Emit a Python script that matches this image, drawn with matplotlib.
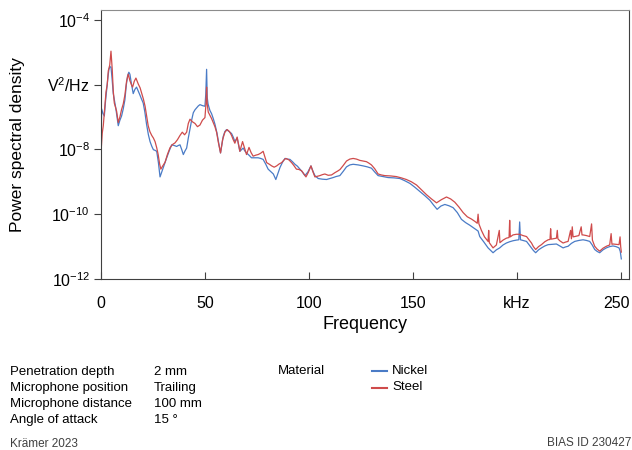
"""
Power spectral density of nickel vs. steel, log scale.
"""

import matplotlib.pyplot as plt
import matplotlib.transforms as mtransforms
import numpy as np
from matplotlib.lines import Line2D

plt.rcParams["font.family"] = ["Liberation Sans", "DejaVu Sans"]
plt.rcParams["mathtext.fontset"] = "custom"
plt.rcParams["mathtext.rm"] = "Liberation Sans"

# frequency in kHz, PSD stored as log10(V^2/Hz)
nickel_f = [
    0.0, 0.3, 1.0, 1.6, 2.2, 2.7, 3.3, 3.8, 4.3, 4.8, 5.3, 5.9, 6.5, 7.1, 7.7, 8.3,
    9.1, 9.9, 10.7, 11.5, 12.2, 12.8, 13.4, 13.9, 14.7, 15.5, 16.3, 17.1, 17.9, 18.7,
    19.5, 20.3, 21.1, 21.9, 22.8, 23.6, 24.4, 25.2, 26.0, 26.8, 27.6, 28.4, 29.2, 30.0,
    30.8, 31.6, 32.8, 34.0, 35.2, 36.4, 37.2, 38.0, 38.8, 39.6, 40.4, 41.2, 42.0, 42.8,
    43.6, 44.4, 45.2, 46.0, 46.8, 47.6, 48.8, 50.0, 50.4, 50.8, 51.1, 51.5, 52.4, 53.2,
    54.0, 54.8, 55.8, 56.6, 57.5, 58.8, 59.6, 60.4, 61.6, 62.8, 63.6, 64.4, 65.5, 66.8,
    68.4, 69.2, 70.0, 71.2, 72.4, 74.0, 75.6, 76.8, 78.0, 79.2, 80.4, 81.6, 82.9, 84.1,
    85.1, 86.1, 87.3, 88.5, 89.7, 90.9, 92.1, 93.3, 94.5, 95.7, 96.9, 98.1, 99.5, 101.0,
    102.0, 102.9, 104.5, 106.5, 108.5, 110.1, 111.7, 113.0, 114.9, 116.5, 118.1, 119.7,
    121.3, 123.7, 126.1, 128.1, 130.1, 131.7, 133.3, 135.7, 138.1, 141.0, 143.8, 146.2,
    148.6, 151.0, 153.4, 155.8, 158.2, 160.0, 161.7, 163.5, 165.4, 167.4, 169.4, 171.4,
    173.4, 175.4, 177.4, 179.4, 181.4, 182.2, 184.2, 186.2, 188.6, 190.2, 191.8, 193.4,
    195.0, 196.6, 198.2, 199.8, 201.0, 201.4, 201.8, 203.0, 204.7, 206.0, 207.1, 208.0,
    209.1, 210.5, 211.9, 213.5, 215.1, 217.1, 219.1, 220.7, 222.3, 223.5, 224.7, 226.3,
    227.9, 229.9, 231.9, 233.5, 235.1, 236.3, 237.5, 238.7, 239.9, 241.5, 243.1, 244.7,
    246.3, 247.7, 249.2, 249.8, 250.3,
]
nickel_psd = [
    -8.2, -6.75, -6.9, -6.97, -6.5, -6.18, -5.8, -5.53, -5.45, -5.46, -5.8, -6.28, -6.5, -6.72, -7.0, -7.27,
    -7.1, -6.97, -6.75, -6.47, -6.0, -5.73, -5.62, -5.68, -6.0, -6.28, -6.15, -6.08, -6.2, -6.32,
    -6.45, -6.57, -6.85, -7.22, -7.55, -7.76, -7.9, -8.01, -8.03, -8.06, -8.4, -8.85, -8.7, -8.56,
    -8.4, -8.26, -8.05, -7.86, -7.88, -7.91, -7.88, -7.86, -8.0, -8.16, -8.05, -7.96, -7.65, -7.37,
    -7.1, -6.87, -6.78, -6.72, -6.66, -6.62, -6.65, -6.67, -6.3, -5.53, -6.4, -6.6, -6.8, -6.9,
    -7.05, -7.22, -7.5, -7.8, -8.11, -7.6, -7.45, -7.39, -7.45, -7.51, -7.62, -7.76, -7.65, -8.06,
    -7.96, -8.05, -8.11, -8.18, -8.26, -8.26, -8.26, -8.28, -8.31, -8.45, -8.61, -8.68, -8.76, -8.93,
    -8.75, -8.56, -8.4, -8.28, -8.3, -8.31, -8.38, -8.46, -8.52, -8.61, -8.7, -8.81, -8.7, -8.51,
    -8.68, -8.81, -8.9, -8.92, -8.93, -8.9, -8.87, -8.84, -8.81, -8.68, -8.54, -8.48,
    -8.46, -8.48, -8.51, -8.54, -8.58, -8.7, -8.81, -8.84, -8.87, -8.88, -8.9, -8.97,
    -9.05, -9.17, -9.3, -9.43, -9.57, -9.72, -9.85, -9.75, -9.7, -9.74, -9.8, -9.95,
    -10.16, -10.26, -10.34, -10.43, -10.52, -10.69, -10.86, -11.04, -11.19, -11.1, -11.04, -10.95,
    -10.89, -10.85, -10.82, -10.8, -10.79, -10.24, -10.79, -10.81, -10.84, -10.95, -11.04, -11.12,
    -11.19, -11.1, -11.04, -10.98, -10.94, -10.93, -10.92, -10.98, -11.04, -11.01, -10.99, -10.9,
    -10.84, -10.81, -10.79, -10.81, -10.84, -10.95, -11.09, -11.15, -11.19, -11.1, -11.04, -11.0,
    -10.98, -11.0, -11.04, -11.15, -11.38,
]

steel_f = [
    0.0, 0.6, 1.1, 1.8, 2.4, 3.0, 3.5, 4.2, 4.8, 5.4, 5.9, 6.4, 7.5, 8.3, 9.1, 9.9,
    10.7, 11.5, 12.3, 13.1, 13.9, 14.6, 15.2, 16.0, 16.8, 17.4, 17.9, 18.8, 19.6, 20.4,
    21.2, 22.0, 22.7, 23.5, 24.4, 25.2, 26.0, 26.8, 27.5, 28.2, 28.8, 29.8, 30.8, 32.0,
    33.2, 34.4, 35.6, 36.8, 38.0, 39.1, 40.2, 41.2, 42.0, 42.8, 44.0, 45.2, 46.4, 47.6,
    48.8, 50.0, 50.5, 50.8, 51.1, 51.6, 53.2, 54.8, 55.6, 56.5, 57.5, 58.5, 59.6, 60.7,
    61.8, 62.8, 63.6, 64.4, 65.5, 66.8, 68.1, 69.0, 70.0, 71.2, 72.2, 73.2, 74.4, 75.6,
    76.8, 78.0, 78.9, 79.7, 81.0, 82.1, 83.3, 84.5, 85.7, 86.9, 88.0, 88.9, 90.3, 91.7,
    92.8, 94.0, 95.2, 96.5, 97.5, 98.6, 99.8, 101.0, 102.0, 102.9, 104.1, 105.3, 106.5,
    107.7, 109.3, 110.9, 112.5, 114.1, 115.0, 116.5, 118.1, 119.7, 121.3, 122.9, 124.5,
    126.1, 127.7, 129.0, 130.1, 131.7, 133.3, 134.9, 136.5, 139.3, 142.1, 144.5, 146.9,
    149.3, 151.8, 154.2, 156.6, 159.0, 161.4, 163.8, 166.2, 168.2, 170.2, 172.2, 174.2,
    176.2, 178.2, 179.8, 181.0, 181.4, 181.8, 183.0, 184.5, 186.2, 186.5, 186.8, 188.6,
    190.2, 191.6, 191.9, 193.4, 195.0, 196.3, 196.6, 196.9, 198.2, 199.8, 201.4, 203.0,
    204.7, 206.0, 207.1, 208.0, 209.1, 210.5, 211.9, 213.5, 215.1, 216.0, 216.3, 216.6,
    217.5, 219.1, 219.5, 219.8, 220.7, 222.3, 223.5, 224.7, 225.9, 226.3, 226.7, 227.1,
    227.9, 229.9, 231.0, 231.4, 231.9, 233.5, 235.1, 236.0, 236.4, 237.5, 238.7, 239.9,
    241.5, 243.1, 244.7, 245.4, 245.8, 246.3, 247.7, 249.2, 249.7, 250.0, 250.3,
]
steel_psd = [
    -8.1, -7.5, -7.27, -6.7, -6.23, -6.0, -5.58, -5.4, -4.97, -5.53, -6.2, -6.57, -6.82, -7.17, -7.0, -6.77,
    -6.6, -6.32, -5.9, -5.68, -5.88, -6.0, -6.08, -5.9, -5.8, -5.9, -5.98, -6.1, -6.28, -6.45,
    -6.67, -7.0, -7.27, -7.45, -7.57, -7.65, -7.76, -7.95, -8.16, -8.45, -8.61, -8.5, -8.4, -8.15,
    -7.95, -7.85, -7.8, -7.7, -7.57, -7.47, -7.55, -7.47, -7.2, -7.07, -7.15, -7.2, -7.3, -7.25,
    -7.1, -7.02, -6.6, -6.08, -6.6, -6.85, -7.05, -7.3, -7.47, -7.8, -8.11, -7.7, -7.47, -7.39,
    -7.45, -7.57, -7.7, -7.81, -7.62, -8.06, -7.76, -7.95, -8.16, -7.94, -8.1, -8.21, -8.18, -8.16,
    -8.12, -8.06, -8.25, -8.41, -8.46, -8.51, -8.55, -8.51, -8.45, -8.41, -8.33, -8.28, -8.32, -8.41,
    -8.5, -8.61, -8.62, -8.66, -8.75, -8.85, -8.7, -8.51, -8.7, -8.85, -8.83, -8.81, -8.78,
    -8.76, -8.8, -8.79, -8.72, -8.66, -8.62, -8.5, -8.36, -8.3, -8.28, -8.3, -8.34,
    -8.36, -8.38, -8.43, -8.48, -8.6, -8.76, -8.79, -8.81, -8.82, -8.84, -8.88, -8.93,
    -9.0, -9.1, -9.25, -9.4, -9.53, -9.65, -9.55, -9.47, -9.53, -9.63, -9.78, -9.95,
    -10.08, -10.15, -10.22, -10.28, -10.0, -10.3, -10.5, -10.7, -10.84, -10.5, -10.88, -11.04,
    -10.95, -10.5, -10.88, -10.8, -10.74, -10.72, -10.19, -10.7, -10.64, -10.62, -10.62, -10.66,
    -10.69, -10.8, -10.89, -11.0, -11.09, -11.0, -10.94, -10.85, -10.79, -10.78, -10.45, -10.77,
    -10.76, -10.74, -10.5, -10.76, -10.82, -10.89, -10.86, -10.84, -10.5, -10.76, -10.39, -10.7,
    -10.69, -10.66, -10.39, -10.64, -10.64, -10.66, -10.69, -10.3, -10.8, -10.99, -11.08, -11.14,
    -11.05, -10.99, -10.95, -10.6, -10.93, -10.92, -10.93, -10.94, -10.7, -11.0, -11.17,
]

x_ticks = [0, 50, 100, 150, 200, 250]
x_tick_labels = ["0", "50", "100", "150", "kHz", "250"]
y_ticks = [1e-12, 1e-10, 1e-8, 1e-6, 1e-4]
y_tick_labels = [r"$\mathregular{10^{-12}}$", r"$\mathregular{10^{-10}}$",
                 r"$\mathregular{10^{-8}}$", r"$\mathregular{V^{2}/Hz}$",
                 r"$\mathregular{10^{-4}}$"]

params = ["Penetration depth", "Microphone position", "Microphone distance", "Angle of attack"]
param_values = ["2 mm", "Trailing", "100 mm", "15 °"]
materials = ["Nickel", "Steel"]
colors = ["#4a7bc6", "#cf4b4b"]

W, H = 632, 450
fig = plt.figure(figsize=(W / 100, H / 100), dpi=100)
ax = fig.add_axes([101 / W, 1 - 279 / H, 528 / W, 269 / H])

ax.plot(nickel_f, 10 ** np.array(nickel_psd), color=colors[0], lw=0.9)
ax.plot(steel_f, 10 ** np.array(steel_psd), color=colors[1], lw=0.9)

ax.set_yscale("log")
ax.set_xlim(0, 254)
ax.set_ylim(1e-12, 10 ** -3.7)
ax.set_xticks(x_ticks)
ax.set_xticklabels(x_tick_labels, fontsize=11.5)
ax.set_yticks(y_ticks)
ax.set_yticklabels(y_tick_labels, fontsize=11.5)
ax.yaxis.set_minor_locator(plt.NullLocator())
ax.tick_params(axis="x", direction="in", length=5, color="#404040", pad=12)
ax.tick_params(axis="y", direction="out", length=5, color="#404040", pad=3)

# nudge the last x label so it stays inside the canvas
last = ax.get_xticklabels()[-1]
last.set_transform(last.get_transform()
                   + mtransforms.ScaledTranslation(-4 / 100, 0, fig.dpi_scale_trans))

for side in ["left", "bottom", "right"]:
    ax.spines[side].set_color("#404040")
ax.spines["top"].set_color("#8c8c8c")

ax.set_xlabel("Frequency", fontsize=13, labelpad=4)
ax.set_ylabel("Power spectral density", fontsize=12.5, labelpad=16)

# footer block
fs = 9.5
for i, (p, v) in enumerate(zip(params, param_values)):
    y = 1 - (372 + 16 * i) / H
    fig.text(10 / W, y, p, fontsize=fs, va="center")
    fig.text(154 / W, y, v, fontsize=fs, va="center")

fig.text(278 / W, 1 - 371 / H, "Material", fontsize=fs, va="center")
for i, (m, c) in enumerate(zip(materials, colors)):
    y = 1 - (371 + 16.5 * i) / H
    fig.add_artist(Line2D([372 / W, 387 / W], [y, y], color=c, lw=1.5))
    fig.text(392 / W, y, m, fontsize=fs, va="center")

fig.text(10 / W, 1 - 444 / H, "Krämer 2023", fontsize=8.5, va="center", color="#404040")
fig.text(631 / W, 1 - 443 / H, "BIAS ID 230427", fontsize=8.5, va="center", ha="right",
         color="#404040")

plt.savefig("out.png", dpi=100)
